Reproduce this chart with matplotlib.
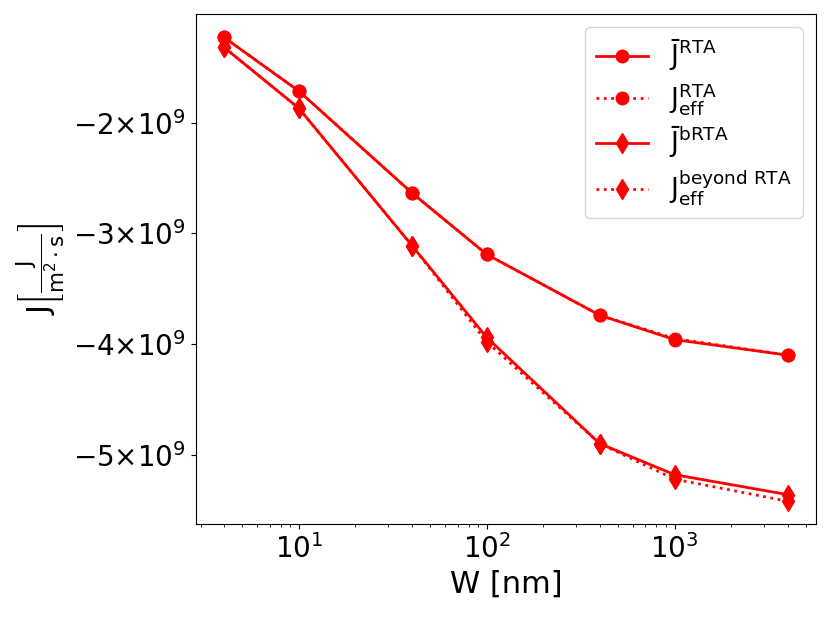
import matplotlib
matplotlib.use("Agg")
import matplotlib.pyplot as plt
from matplotlib.ticker import FuncFormatter, MultipleLocator

W = [4, 10, 40, 100, 400, 1000, 4000]
J_bar_RTA = [-1.23, -1.715, -2.635, -3.19, -3.74, -3.96, -4.10]
J_eff_RTA = [-1.23, -1.715, -2.635, -3.19, -3.74, -3.95, -4.10]
J_bar_bRTA = [-1.32, -1.87, -3.11, -3.94, -4.90, -5.18, -5.36]
J_eff_bRTA = [-1.32, -1.87, -3.11, -3.98, -4.90, -5.22, -5.42]
scale = 1e9

fig = plt.figure(figsize=(8.3, 6.17), dpi=100)
ax = fig.add_axes([0.236, 0.150, 0.747, 0.827])

lw = 2
ax.plot(W, [v * scale for v in J_bar_RTA], 'r-', marker='o', ms=9, lw=lw,
        label=r'$\bar{\mathrm{J}}^{\mathrm{RTA}}$')
ax.plot(W, [v * scale for v in J_eff_RTA], 'r:', marker='o', ms=9, lw=lw,
        label=r'$\mathrm{J}_{\mathrm{eff}}^{\mathrm{RTA}}$')
ax.plot(W, [v * scale for v in J_bar_bRTA], 'r-', marker='d', ms=10, lw=lw,
        label=r'$\bar{\mathrm{J}}^{\mathrm{bRTA}}$')
ax.plot(W, [v * scale for v in J_eff_bRTA], 'r:', marker='d', ms=10, lw=lw,
        label=r'$\mathrm{J}_{\mathrm{eff}}^{\mathrm{beyond\ RTA}}$')

ax.set_xscale('log')
ax.yaxis.set_major_locator(MultipleLocator(1e9))
ax.yaxis.set_major_formatter(FuncFormatter(
    lambda v, p: r'$-%d{\times}10^{9}$' % round(-v / 1e9) if v < 0 else r'$%d{\times}10^{9}$' % round(v / 1e9)))
ax.tick_params(labelsize=20)
ax.set_xlabel('W [nm]', fontsize=22)
ax.set_ylabel(r'$\mathrm{J}\left[\frac{\mathrm{J}}{\mathrm{m}^2\cdot\mathrm{s}}\right]$', fontsize=22)
ax.legend(loc='upper right', fontsize=19, labelspacing=0.3)

fig.savefig('out.png', dpi=100)
